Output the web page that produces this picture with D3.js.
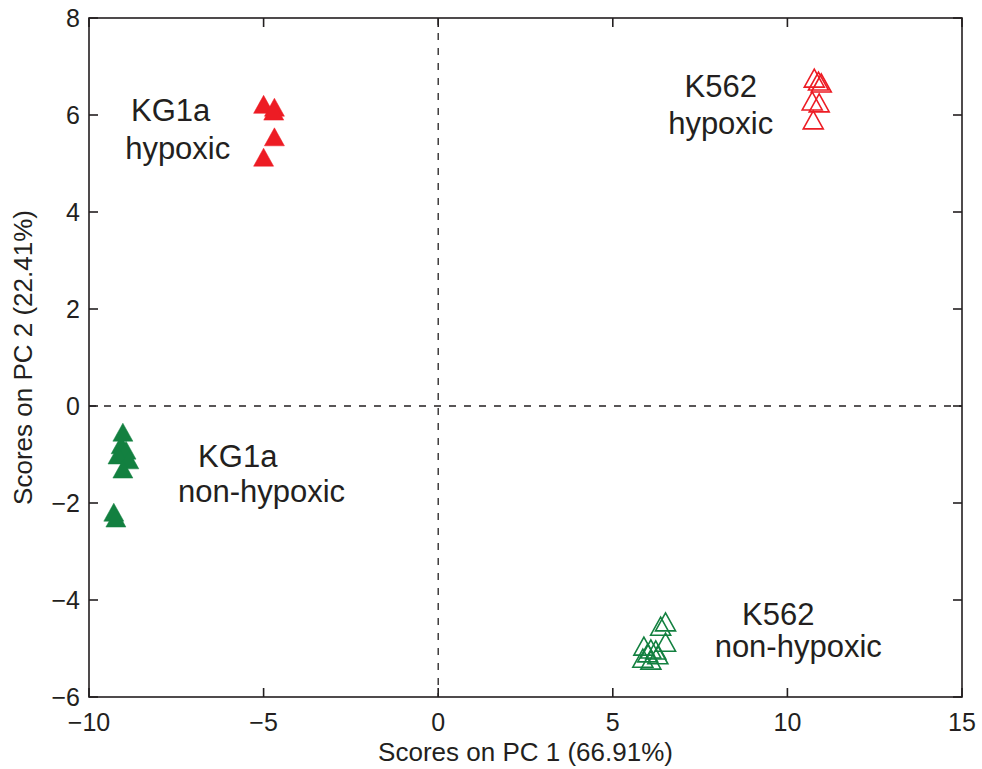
<!DOCTYPE html>
<html>
<head>
<meta charset="utf-8">
<script src="https://cdn.jsdelivr.net/npm/d3@7"></script>
<style>
  body { margin: 0; background: #fff; }
  svg text { font-family: "Liberation Sans", Arial, Helvetica, sans-serif; fill: #231f20; }
</style>
</head>
<body>
<svg id="chart" width="982" height="769"></svg>
<script>
// PCA scores: [PC1, PC2]
const kg1aHypoxic = [[-5.0, 6.22], [-4.69, 6.16], [-4.71, 6.08], [-4.69, 5.55], [-5.0, 5.13]];
const k562Hypoxic = [[10.77, 6.76], [10.89, 6.70], [10.97, 6.66], [10.71, 6.29], [10.91, 6.25], [10.74, 5.90]];
const kg1aNormoxic = [[-9.03, -0.54], [-9.08, -0.80], [-8.94, -0.91], [-9.17, -1.01], [-8.86, -1.11], [-9.03, -1.30],
                      [-9.29, -2.19], [-9.23, -2.31]];
const k562Normoxic = [[6.51, -4.45], [6.37, -4.54], [6.51, -4.87], [5.89, -4.95], [6.09, -5.01], [6.23, -5.03],
                      [6.0, -5.09], [6.29, -5.13], [5.86, -5.20], [6.09, -5.24]];

const xTicks = [-10, -5, 0, 5, 10, 15];
const yTicks = [-6, -4, -2, 0, 2, 4, 6, 8];

// group labels, anchored (baseline, centre) in data units
const groupLabels = [
  { text: "KG1a", x: -7.66, y: 5.88 },
  { text: "hypoxic", x: -7.46, y: 5.1 },
  { text: "K562", x: 8.09, y: 6.37 },
  { text: "hypoxic", x: 8.09, y: 5.6 },
  { text: "KG1a", x: -5.74, y: -1.26 },
  { text: "non-hypoxic", x: -5.06, y: -1.98 },
  { text: "K562", x: 9.74, y: -4.52 },
  { text: "non-hypoxic", x: 10.31, y: -5.18 }
];

const red = "#ed1c24", green = "#138040", ink = "#231f20";

const svg = d3.select("#chart");
const margin = { left: 89, top: 18, right: 20, bottom: 72 };
const W = 982, H = 769;

const x = d3.scaleLinear().domain([-10, 15]).range([margin.left, W - margin.right]);
const y = d3.scaleLinear().domain([-6, 8]).range([H - margin.bottom, margin.top]);

// zero lines
svg.append("line")
  .attr("x1", x(0)).attr("x2", x(0)).attr("y1", y(8)).attr("y2", y(-6))
  .attr("stroke", ink).attr("stroke-width", 1.3).attr("stroke-dasharray", "7,8");
svg.append("line")
  .attr("x1", x(-10)).attr("x2", x(15)).attr("y1", y(0)).attr("y2", y(0))
  .attr("stroke", ink).attr("stroke-width", 1.3).attr("stroke-dasharray", "7,8");

// triangle marker, centred on its bounding box
function tri(d) {
  const cx = x(d[0]), cy = y(d[1]), w = 20, h = 18;
  return `M${cx},${cy - h / 2}L${cx + w / 2},${cy + h / 2}L${cx - w / 2},${cy + h / 2}Z`;
}

function drawGroup(data, color, filled) {
  svg.append("g").selectAll("path")
    .data(data)
    .join("path")
      .attr("d", tri)
      .attr("fill", filled ? color : "none")
      .attr("stroke", color)
      .attr("stroke-width", filled ? 0.5 : 1.6)
      .attr("stroke-linejoin", "miter");
}

drawGroup(kg1aHypoxic, red, true);
drawGroup(k562Hypoxic, red, false);
drawGroup(kg1aNormoxic, green, true);
drawGroup(k562Normoxic, green, false);

// box axes with inward ticks on all four sides (MATLAB style)
const tickLen = 9;
const axisG = svg.append("g").attr("stroke", ink).attr("stroke-width", 1.6);
axisG.append("rect")
  .attr("x", x(-10)).attr("y", y(8))
  .attr("width", x(15) - x(-10)).attr("height", y(-6) - y(8))
  .attr("fill", "none");
xTicks.forEach(t => {
  axisG.append("line").attr("x1", x(t)).attr("x2", x(t)).attr("y1", y(-6)).attr("y2", y(-6) - tickLen);
  axisG.append("line").attr("x1", x(t)).attr("x2", x(t)).attr("y1", y(8)).attr("y2", y(8) + tickLen);
});
yTicks.forEach(t => {
  axisG.append("line").attr("x1", x(-10)).attr("x2", x(-10) + tickLen).attr("y1", y(t)).attr("y2", y(t));
  axisG.append("line").attr("x1", x(15)).attr("x2", x(15) - tickLen).attr("y1", y(t)).attr("y2", y(t));
});

const fmt = v => (v < 0 ? "\u2212" + Math.abs(v) : String(v));

svg.append("g").selectAll("text")
  .data(xTicks)
  .join("text")
    .attr("x", d => x(d))
    .attr("y", y(-6) + 34)
    .attr("text-anchor", "middle")
    .attr("font-size", 25)
    .text(fmt);

svg.append("g").selectAll("text")
  .data(yTicks)
  .join("text")
    .attr("x", x(-10) - 9)
    .attr("y", d => y(d))
    .attr("dy", "0.35em")
    .attr("text-anchor", "end")
    .attr("font-size", 25)
    .text(fmt);

// axis titles
svg.append("text")
  .attr("x", (x(-10) + x(15)) / 2)
  .attr("y", 761)
  .attr("text-anchor", "middle")
  .attr("font-size", 26)
  .text("Scores on PC 1 (66.91%)");

svg.append("text")
  .attr("transform", `translate(32,${(y(8) + y(-6)) / 2}) rotate(-90)`)
  .attr("text-anchor", "middle")
  .attr("font-size", 26)
  .text("Scores on PC 2 (22.41%)");

// group annotations
svg.append("g").selectAll("text")
  .data(groupLabels)
  .join("text")
    .attr("x", d => x(d.x))
    .attr("y", d => y(d.y))
    .attr("text-anchor", "middle")
    .attr("font-size", 31)
    .text(d => d.text);
</script>
</body>
</html>
